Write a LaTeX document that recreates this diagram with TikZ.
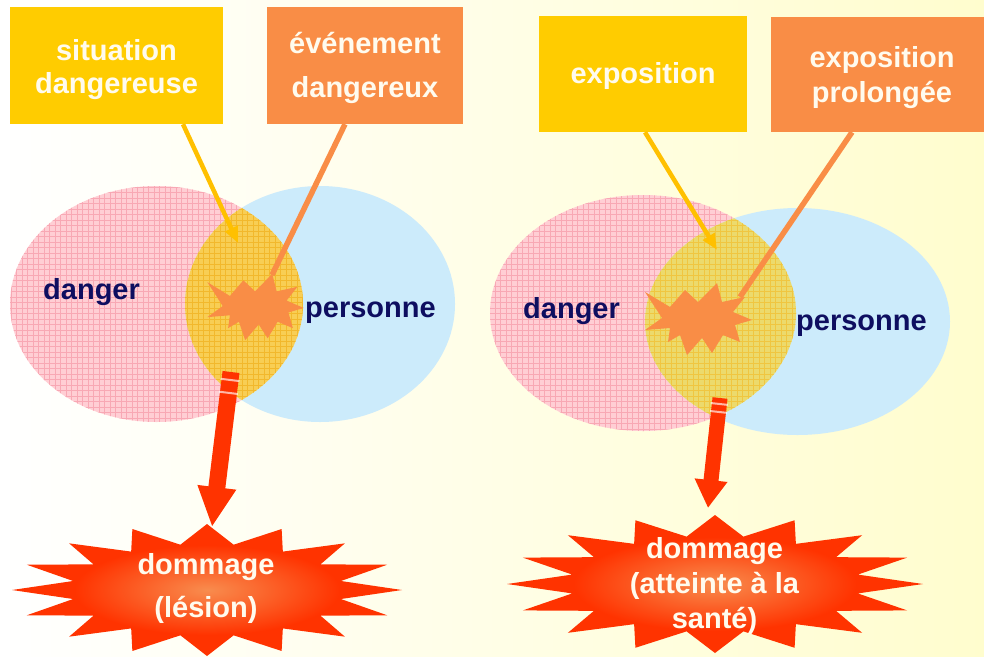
\documentclass[tikz,border=0pt]{standalone}
\usepackage{fontspec}
\setmainfont{Liberation Sans}
\usetikzlibrary{arrows.meta,calc}
\definecolor{bgY}{RGB}{255,253,206}
\definecolor{boxYc}{RGB}{255,204,0}
\definecolor{boxOc}{RGB}{249,141,70}
\definecolor{lineYc}{RGB}{255,192,0}
\definecolor{textW}{RGB}{255,251,238}
\definecolor{pinkF}{RGB}{255,206,212}
\definecolor{pinkG}{RGB}{248,168,180}
\definecolor{blueF}{RGB}{204,235,251}
\definecolor{yelFL}{RGB}{248,206,84}
\definecolor{yelGL}{RGB}{242,184,44}
\definecolor{yelFR}{RGB}{236,218,108}
\definecolor{yelGR}{RGB}{240,198,64}
\definecolor{navyC}{RGB}{14,14,96}
\definecolor{redC}{RGB}{255,51,0}
\definecolor{starIn}{RGB}{248,140,78}
\pgfdeclareradialshading{burstshade}{\pgfpoint{0bp}{0bp}}{color(0bp)=(starIn); color(17bp)=(redC); color(50bp)=(redC)}
\begin{document}
\begin{tikzpicture}[x=1pt,y=-1pt,
  font=\bfseries\fontsize{29}{33}\selectfont,
  gridline/.style={line width=0.6pt, step=5.5pt},
  boxshape/.style={draw=none, inner sep=0pt},
  boxtext/.style={text=textW, align=center, inner sep=0pt},
  navytext/.style={text=navyC, inner sep=0pt},
  yarrow/.style={lineYc, line width=4.5pt, -{Triangle[length=16pt,width=13pt]}},
  oline/.style={boxOc, line width=5.5pt},
  stripe/.style={white, opacity=0.65, line width=2pt},
  burstS/.pic={\fill[boxOc] (-54,-27) -- (-29,-12) -- (-14,-29) -- (-1,-17) -- (18,-36) -- (23,-17) -- (46,-22) -- (34,-7) -- (53,1) -- (36,6) -- (41,23) -- (24,16) -- (13,34) -- (3,19) -- (-12,36) -- (-19,16) -- (-31,23) -- (-29,9) -- (-54,11) -- (-37,-1) -- cycle;}
]
\useasboundingbox (0,0) rectangle (984,656);
\shade[left color=white, right color=bgY] (0,0) rectangle (984,656);

% ---------- left Venn ----------
\fill[pinkF] (156.5,304) ellipse [x radius=146.5, y radius=118];
\begin{scope}
  \clip (156.5,304) ellipse [x radius=146.5, y radius=118];
  \draw[pinkG, gridline] (0,176) grid (310,430);
\end{scope}
\fill[blueF] (320,304) ellipse [x radius=135, y radius=118];
\begin{scope}
  \clip (156.5,304) ellipse [x radius=146.5, y radius=118];
  \fill[yelFL] (320,304) ellipse [x radius=135, y radius=118];
  \clip (320,304) ellipse [x radius=135, y radius=118];
  \draw[yelGL, gridline] (176,176) grid (310,430);
\end{scope}
\node[navytext, anchor=base west] (dangerL) at (43,299) {danger};
\node[navytext, anchor=base west] (personneL) at (305,317) {personne};

% ---------- right Venn ----------
\fill[pinkF] (643,313) ellipse [x radius=153, y radius=118];
\begin{scope}
  \clip (643,313) ellipse [x radius=153, y radius=118];
  \draw[pinkG, gridline] (484,187) grid (800,440);
\end{scope}
\fill[blueF] (797.5,321.5) ellipse [x radius=152.5, y radius=113.5];
\begin{scope}
  \clip (643,313) ellipse [x radius=153, y radius=118];
  \fill[yelFR] (797.5,321.5) ellipse [x radius=152.5, y radius=113.5];
  \clip (797.5,321.5) ellipse [x radius=152.5, y radius=113.5];
  \draw[yelGR, gridline] (638,198) grid (800,440);
\end{scope}
\node[navytext, anchor=base west] (dangerR) at (523,318) {danger};
\node[navytext, anchor=base west] (personneR) at (796,330) {personne};

% ---------- boxes ----------
\node[boxshape, fill=boxYc, minimum width=213, minimum height=117] (sitbox) at (116.5,65.5) {};
\node[boxtext] (sittext) at (116.5,69.2) {situation\\dangereuse};
\node[boxshape, fill=boxOc, minimum width=196, minimum height=117] (evtbox) at (365,65.5) {};
\node[boxtext, font=\bfseries\fontsize{29}{44}\selectfont] (evttext) at (365,67.8) {événement\\dangereux};
\node[boxshape, fill=boxYc, minimum width=208, minimum height=116] (expbox) at (643,74) {};
\node[boxtext, anchor=base] (exptext) at (643,83) {exposition};
\node[boxshape, fill=boxOc, minimum width=213, minimum height=115] (probox) at (877.5,74.5) {};
\node[boxtext, font=\bfseries\fontsize{29}{35}\selectfont] (protext) at (882,77.2) {exposition\\prolongée};

% ---------- coordinates ----------
\coordinate (sitTip) at (238,243);
\coordinate (sparkL) at (256,307);
\coordinate (sparkLtip) at (272,275);
\coordinate (expTip) at (717,250);
\coordinate (sparkR) at (699,319);
\coordinate (sparkRtip) at (740,297);
\coordinate (outL) at (231,372);
\coordinate (dmgLtop) at (212,527);
\coordinate (outR) at (720,398);
\coordinate (dmgRtop) at (708,508);

% ---------- connectors from boxes ----------
\draw[yarrow] ($(sitbox.south)+(66.5,0)$) -- (sitTip);
\draw[oline] ($(evtbox.south)+(-20,0)$) -- (sparkLtip);
\draw[yarrow] ($(expbox.south)+(2,0)$) -- (expTip);
\draw[oline] ($(probox.south)+(-25.5,0)$) -- (sparkRtip);

% ---------- small bursts ----------
\pic[xscale=0.9, yscale=0.92] at (sparkL) {burstS};
\pic at (sparkR) {burstS};

% ---------- red arrows ----------
\draw[redC, line width=17pt, -{Triangle[length=40pt,width=36pt]}] (outL) -- (dmgLtop);
\draw[stripe] ($(outL)!8pt!(dmgLtop)!9.5pt!90:(dmgLtop)$) -- ($(outL)!8pt!(dmgLtop)!9.5pt!-90:(dmgLtop)$);
\draw[stripe] ($(outL)!21pt!(dmgLtop)!9.5pt!90:(dmgLtop)$) -- ($(outL)!21pt!(dmgLtop)!9.5pt!-90:(dmgLtop)$);
\draw[redC, line width=15pt, -{Triangle[length=28pt,width=31pt]}] (outR) -- (dmgRtop);
\draw[stripe] ($(outR)!6pt!(dmgRtop)!8.5pt!90:(dmgRtop)$) -- ($(outR)!6pt!(dmgRtop)!8.5pt!-90:(dmgRtop)$);
\draw[stripe] ($(outR)!14pt!(dmgRtop)!8.5pt!90:(dmgRtop)$) -- ($(outR)!14pt!(dmgRtop)!8.5pt!-90:(dmgRtop)$);

% ---------- big bursts ----------
\shade[shading=burstshade] plot[samples at={0,...,31}] ({207+195*(1-0.3*mod(\x,2))*cos(\x*11.25)}, {590+66*(1-0.3*mod(\x,2))*sin(\x*11.25)}) -- cycle;
\node[boxtext, font=\bfseries\fontsize{29}{43}\selectfont] (dmgL) at (206,588.2) {dommage\\(lésion)};
\shade[shading=burstshade] plot[samples at={0,...,31}] ({715+208*(1-0.3*mod(\x,2))*cos(\x*11.25)}, {584+69*(1-0.3*mod(\x,2))*sin(\x*11.25)}) -- cycle;
\node[boxtext, font=\bfseries\fontsize{29}{35}\selectfont] (dmgR) at (714.5,585.9) {dommage\\(atteinte à la\\santé)};
\end{tikzpicture}
\end{document}
